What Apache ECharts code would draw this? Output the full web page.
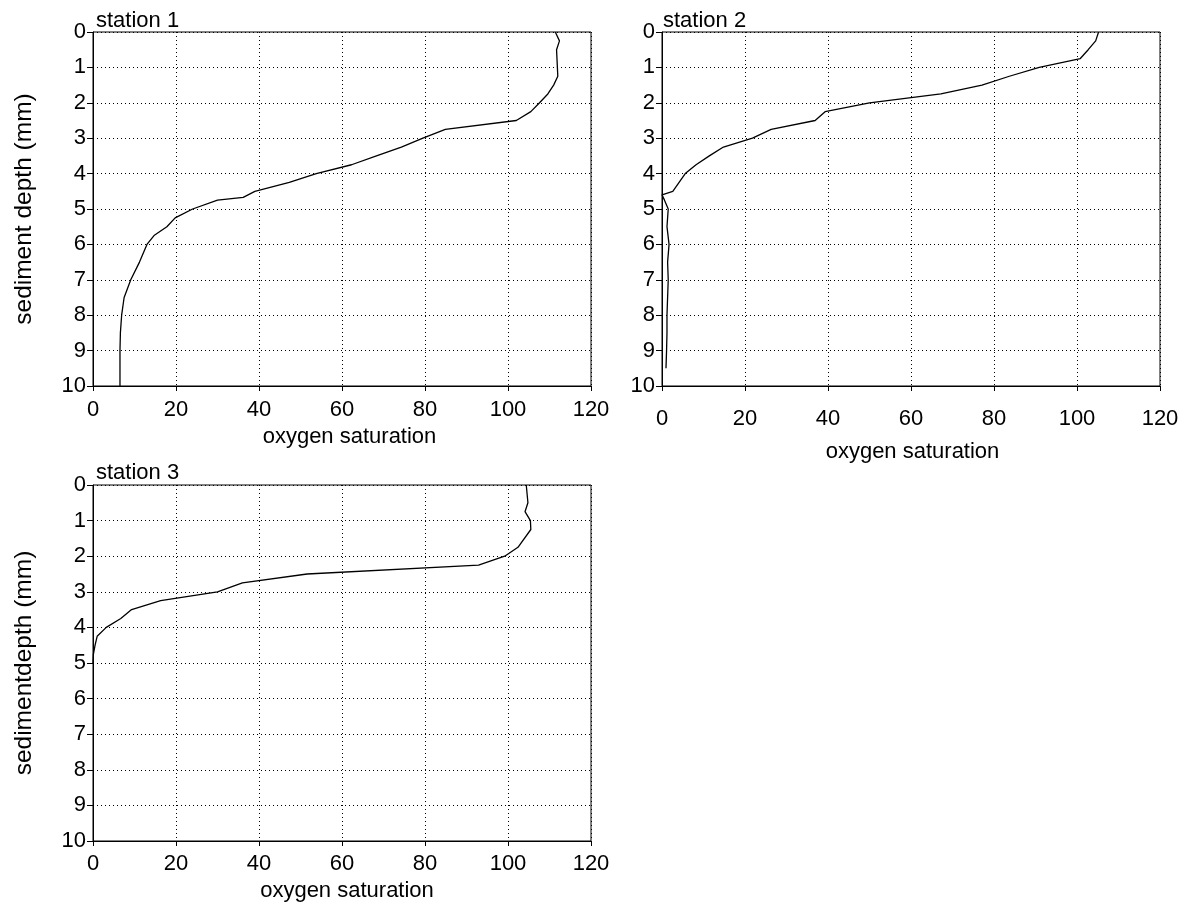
<!DOCTYPE html>
<html>
<head>
<meta charset="utf-8">
<script src="https://cdn.jsdelivr.net/npm/echarts@6/dist/echarts.min.js"></script>
<style>
html,body{margin:0;padding:0;background:#fff;}
#chart{width:1191px;height:916px;}
</style>
</head>
<body>
<div id="chart"></div>
<script>
// ---- data (depth in mm, oxygen saturation) ----
const titles = ['station 1', 'station 2', 'station 3'];
const yNames = ['sediment depth (mm)', '', 'sedimentdepth (mm)'];
const xName = 'oxygen saturation';

const depth1 = [0,0.25,0.5,1,1.25,1.5,1.75,2,2.25,2.5,2.75,3,3.25,3.5,3.75,4,4.25,4.5,4.67,4.75,5,5.25,5.5,5.75,6,6.5,7,7.5,8,8.5,9,9.5,10];
const oxy1   = [111.4,112.4,111.7,111.9,112,111,109.6,107.6,105.5,102,84.9,79.5,74.3,68.3,62.3,53.8,47.3,39,36.2,30,24,19.8,17.8,14.7,13,11.2,9.1,7.5,6.9,6.6,6.5,6.5,6.5];

const depth2 = [0,0.25,0.5,0.75,1,1.25,1.5,1.75,2,2.25,2.5,2.75,3,3.25,3.5,3.75,4,4.5,4.6,4.75,5,5.5,6,6.5,7,7.5,8,8.5,9,9.5];
const oxy2   = [105.2,104.5,102.7,100.8,90.9,83.7,77.1,67.2,50,39.3,36.9,26.3,21.8,14.8,11.4,8.2,5.6,2.6,0,0.6,1.5,1.2,1.7,1.35,1.5,1.35,1.2,1.2,1.1,0.96];

const depth3 = [0,0.5,0.75,1,1.25,1.75,2,2.25,2.5,2.75,3,3.25,3.5,3.75,4,4.25,4.5,4.75,5];
const oxy3   = [104.4,104.8,104.1,105.4,105.5,102.4,99.2,92.9,51.6,36,30,16.3,9.3,6.7,3.2,1.0,0.5,0.1,0];

const xTicks = {min:0, max:120, interval:20};
const yTicks = {min:0, max:10, interval:1};

// ---- layout ----
const grids = [
  {left:93, top:32, width:498, height:354},
  {left:662, top:32, width:498, height:354},
  {left:93, top:485, width:498, height:356}
];
const titlePos = [{left:96, top:10},{left:663, top:10},{left:96, top:462}];
const xLabelMargin = [13, 22, 12];
const xNameGap = [40, 55, 39];
const xNamePad = [[0,0,0,15],[0,0,0,3],[0,0,0,10]];

const FONT = 'Liberation Sans, Arial, sans-serif';
const pairs = (xs, ys) => xs.map((x, i) => [x, ys[i]]);
const seriesData = [pairs(oxy1, depth1), pairs(oxy2, depth2), pairs(oxy3, depth3)];

const dotted = {color:'#000', width:1, type:[1,3]};

const option = {
  animation:false,
  backgroundColor:'#fff',
  title: titles.map((t, i) => ({
    text:t, left:titlePos[i].left, top:titlePos[i].top, padding:0,
    textStyle:{fontFamily:FONT, fontSize:22, fontWeight:'normal', color:'#000'}
  })),
  grid: grids.map(g => Object.assign({show:true, borderColor:'#000', borderWidth:1, backgroundColor:'transparent'}, g)),
  xAxis: grids.map((g, i) => ({
    gridIndex:i, type:'value', min:xTicks.min, max:xTicks.max, interval:xTicks.interval,
    position:'bottom',
    axisLine:{show:true, onZero:false, lineStyle:{color:'#000', width:1}},
    axisTick:{show:true, length:5, lineStyle:{color:'#000'}},
    axisLabel:{color:'#000', fontSize:22, fontFamily:FONT, margin:xLabelMargin[i], showMinLabel:true, showMaxLabel:true},
    splitLine:{show:true, lineStyle:dotted},
    name:xName, nameLocation:'middle', nameGap:xNameGap[i],
    nameTextStyle:{color:'#000', fontSize:22, fontFamily:FONT, padding:xNamePad[i]}
  })),
  yAxis: grids.map((g, i) => ({
    gridIndex:i, type:'value', inverse:true, min:yTicks.min, max:yTicks.max, interval:yTicks.interval,
    position:'left',
    axisLine:{show:true, onZero:false, lineStyle:{color:'#000', width:1}},
    axisTick:{show:true, length:6, lineStyle:{color:'#000'}},
    axisLabel:{color:'#000', fontSize:22, fontFamily:FONT, margin:7, showMinLabel:true, showMaxLabel:true},
    splitLine:{show:true, lineStyle:dotted},
    name:yNames[i], nameLocation:'middle', nameGap:56,
    nameTextStyle:{color:'#000', fontSize:24.5, fontFamily:FONT}
  })),
  series: seriesData.map((d, i) => ({
    type:'line', xAxisIndex:i, yAxisIndex:i, data:d,
    showSymbol:false, symbol:'none', smooth:false,
    lineStyle:{color:'#000', width:1.3}, silent:true
  }))
};

const chart = echarts.init(document.getElementById('chart'), null, {renderer:'canvas'});
chart.setOption(option);
</script>
</body>
</html>
